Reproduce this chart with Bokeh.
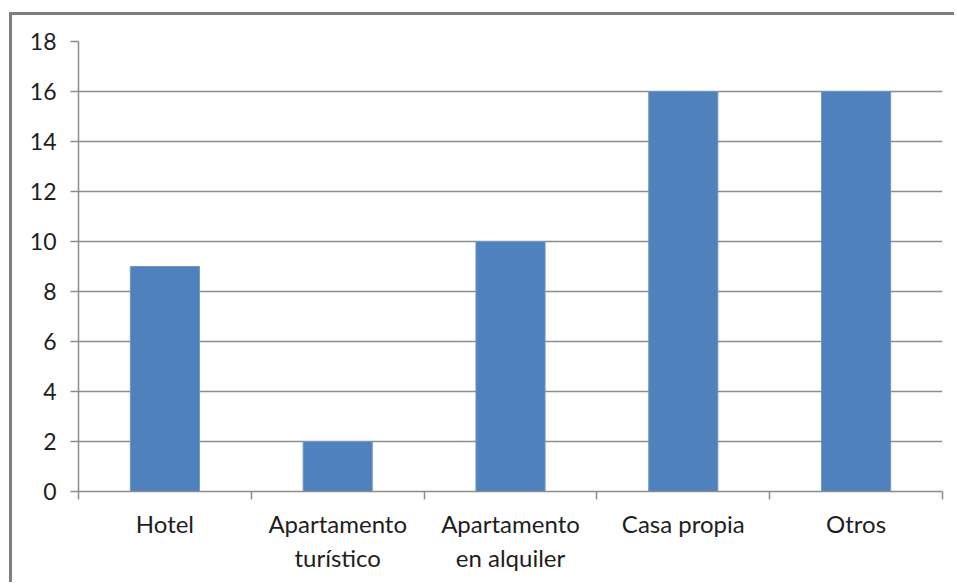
from bokeh.plotting import figure
from bokeh.models import Range1d, FixedTicker
from bokeh.embed import file_html
from bokeh.resources import INLINE

# Tipo de alojamiento y número de respuestas
categories = ["Hotel", "Apartamento\nturístico", "Apartamento\nen alquiler", "Casa propia", "Otros"]
values = [9, 2, 10, 16, 16]
y_ticks = [0, 2, 4, 6, 8, 10, 12, 14, 16, 18]

FONT = "Lato"
GRID = "#8c8c8c"
TEXT = "#1e1e1e"

n = len(categories)
centers = [i + 0.5 for i in range(n)]
bounds = list(range(n + 1))

p = figure(
    width=945, height=570,
    x_range=Range1d(0, n), y_range=Range1d(0, 18),
    output_backend="svg", toolbar_location=None,
    min_border_left=66, min_border_top=26, min_border_right=15, min_border_bottom=94,
)
p.margin = (12, 0, 0, 9)
p.styles = {"border-left": "3px solid #7f7f7f", "border-top": "3px solid #7f7f7f"}
p.outline_line_color = None
p.background_fill_color = "white"
p.border_fill_color = "white"

p.vbar(x=centers, top=values, width=0.4, bottom=0,
       fill_color="#4F81BD", line_color="#7096c8", line_width=1)

# eje X: etiquetas centradas, marcas en los límites de cada categoría
xa = p.xaxis[0]
xa.ticker = FixedTicker(ticks=centers, minor_ticks=bounds)
xa.major_label_overrides = {c: lab for c, lab in zip(centers, categories)}
xa.major_tick_out = 0
xa.major_tick_in = 0
xa.minor_tick_out = 8
xa.minor_tick_in = 0
xa.minor_tick_line_color = GRID
xa.axis_line_color = GRID
xa.axis_line_width = 1.5
xa.minor_tick_line_width = 1.5
xa.major_label_text_font = FONT
xa.major_label_text_font_size = "24px"
xa.major_label_text_color = TEXT
xa.major_label_standoff = 9

ya = p.yaxis[0]
ya.ticker = FixedTicker(ticks=y_ticks)
ya.minor_tick_line_color = None
ya.major_tick_out = 8
ya.major_tick_in = 0
ya.major_tick_line_color = GRID
ya.major_tick_line_width = 1.5
ya.axis_line_color = GRID
ya.axis_line_width = 1.5
ya.major_label_text_font = FONT
ya.major_label_text_font_size = "23px"
ya.major_label_text_color = TEXT
ya.major_label_standoff = 14

p.xgrid.grid_line_color = None
p.ygrid.grid_line_color = GRID
p.ygrid.grid_line_width = 1.5
p.ygrid.ticker = FixedTicker(ticks=y_ticks)

open("out.html", "w").write(file_html(p, INLINE))
